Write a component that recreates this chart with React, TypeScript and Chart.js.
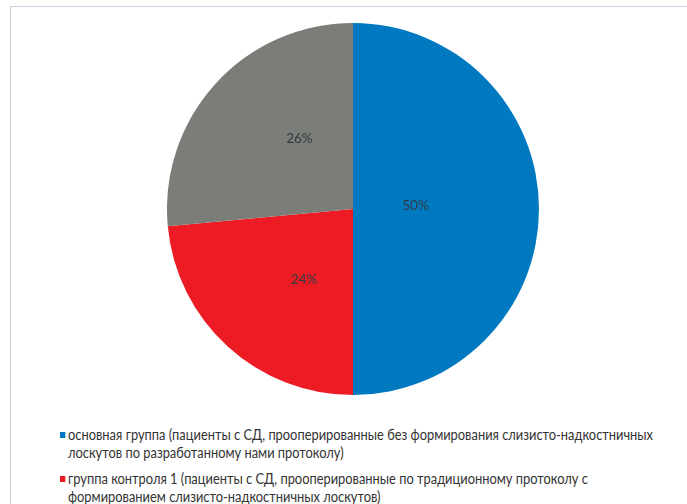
import React, { useEffect, useLayoutEffect, useRef } from "react";
import { Chart, registerables } from "chart.js";

Chart.register(...registerables);

const categories = [
  "основная группа (пациенты с СД, прооперированные без формирования слизисто-надкостничных лоскутов по разработанному нами протоколу)",
  "группа контроля 1 (пациенты с СД, прооперированные по традиционному протоколу с формированием слизисто-надкостничных лоскутов)",
  "группа контроля 2",
];
const legendLines = [
  ["основная группа (пациенты с СД, прооперированные без формирования слизисто-надкостничных", "лоскутов по разработанному нами протоколу)"],
  ["группа контроля 1 (пациенты с СД, прооперированные по традиционному протоколу с", "формированием слизисто-надкостничных лоскутов)"],
];
const values = [17, 8, 9];
const colors = ["#0079c1", "#ed1c24", "#7b7d78"];

const labelPlugin = {
  id: "sliceLabels",
  afterDatasetsDraw(chart: any) {
    const { ctx } = chart;
    const meta = chart.getDatasetMeta(0);
    const total = values.reduce((a, b) => a + b, 0);
    ctx.save();
    ctx.font = "13.5px Lato, 'Open Sans', sans-serif";
    ctx.fillStyle = "#333a42";
    ctx.textAlign = "center";
    ctx.textBaseline = "middle";
    meta.data.forEach((arc: any, i: number) => {
      const p = arc.getProps(["x", "y", "startAngle", "endAngle", "outerRadius"], true);
      const mid = (p.startAngle + p.endAngle) / 2;
      const pct = (values[i] / total) * 100;
      const big = pct >= 50;
      const fx = big ? 0.336 : 0.39;
      const fy = big ? 0.336 : 0.535;
      const x = p.x + Math.cos(mid) * p.outerRadius * fx;
      const y = p.y + Math.sin(mid) * p.outerRadius * fy - 3;
      ctx.fillText(Math.round(pct) + "%", x, y);
    });
    ctx.restore();
  },
};

export default function App() {
  const ref = useRef<HTMLCanvasElement>(null);
  const legendRef = useRef<HTMLDivElement>(null);
  const firstLineRef = useRef<HTMLSpanElement>(null);

  useLayoutEffect(() => {
    if (!legendRef.current || !firstLineRef.current) return;
    const w = firstLineRef.current.getBoundingClientRect().width;
    if (w > 0) {
      legendRef.current.style.transform = `scaleX(${585 / w})`;
    }
  }, []);

  useEffect(() => {
    if (!ref.current) return;
    const chart = new Chart(ref.current, {
      type: "pie",
      data: {
        labels: categories,
        datasets: [{ data: values, backgroundColor: colors, borderWidth: 0 }],
      },
      options: {
        animation: false,
        responsive: false,
        maintainAspectRatio: false,
        layout: { padding: 0 },
        plugins: { legend: { display: false }, tooltip: { enabled: false } },
      },
      plugins: [labelPlugin],
    });
    return () => chart.destroy();
  }, []);

  const font = "Lato, 'Open Sans', sans-serif";
  return (
    <div style={{ position: "absolute", left: 0, top: 0, width: 687, height: 504, overflow: "hidden", background: "#fff" }}>
      <div style={{ position: "absolute", left: 10, top: 6, width: 700, height: 520, borderTop: "1.5px solid #c5d4e0", borderLeft: "1px solid #c5d4e0" }} />
      <canvas ref={ref} width={372} height={372} style={{ position: "absolute", left: 167, top: 23, width: 372, height: 372 }} />
      <div ref={legendRef} style={{ position: "absolute", left: 68, top: 426, transformOrigin: "0 0", fontFamily: font, fontSize: 14.5, lineHeight: "18px", color: "#333333", whiteSpace: "nowrap" }}>
        {legendLines.map((lines, i) => (
          <div key={i} style={{ position: "relative", marginBottom: 8 }}>
            <span style={{ position: "absolute", left: -9, top: 6, width: 6, height: 6, background: colors[i] }} />
            {lines.map((l, j) => (
              <div key={j}>
                {i === 0 && j === 0 ? <span ref={firstLineRef}>{l}</span> : l}
              </div>
            ))}
          </div>
        ))}
      </div>
    </div>
  );
}
